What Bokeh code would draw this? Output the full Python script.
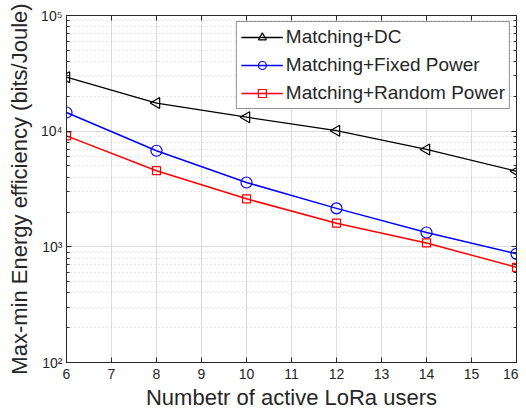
import numpy as np
from bokeh.plotting import figure
from bokeh.models import (LinearAxis, LogAxis, FixedTicker, LogTicker, Legend, LegendItem, Range1d,
                          CustomJSTickFormatter, ColumnDataSource)
from bokeh.embed import file_html
from bokeh.resources import INLINE

users = [6, 8, 10, 12, 14, 16]
matching_dc = [29300, 17500, 13200, 10100, 6950, 4500]
matching_fixed = [14500, 6770, 3600, 2150, 1330, 870]
matching_random = [9100, 4550, 2600, 1600, 1080, 665]
x_ticks = list(range(6, 17))
y_tick_labels = {100: "10²", 1000: "10³", 10000: "10⁴", 100000: "10⁵"}

FONT = "Liberation Sans"
TXT = "#262626"

p = figure(width=518, height=412, y_axis_type="log", output_backend="svg",
           toolbar_location=None, x_range=Range1d(6, 16), y_range=Range1d(100, 100000),
           min_border_left=66, min_border_right=2, min_border_top=15, min_border_bottom=50)
p.outline_line_color = TXT
p.outline_line_width = 1
p.background_fill_color = "white"

xa = p.xaxis[0]
ya = p.yaxis[0]
xa.ticker = FixedTicker(ticks=x_ticks)
ya.ticker = LogTicker(desired_num_ticks=4, num_minor_ticks=10)
ya.major_label_overrides = y_tick_labels
for ax in (xa, ya):
    ax.axis_line_color = TXT
    ax.major_tick_line_color = TXT
    ax.minor_tick_line_color = TXT
    ax.major_tick_in = 5
    ax.major_tick_out = 0
    ax.minor_tick_in = 3
    ax.minor_tick_out = 0
    ax.major_label_text_font = FONT
    ax.major_label_text_font_size = "14px"
    ax.major_label_text_color = TXT
    ax.axis_label_text_font = FONT
    ax.axis_label_text_font_size = "22px"
    ax.axis_label_text_font_style = "normal"
    ax.axis_label_text_color = TXT
xa.minor_tick_line_color = None
xa.axis_label = "Numbetr of active LoRa users"
ya.axis_label = "Max-min Energy efficiency (bits/Joule)"
xa.major_label_standoff = 6
ya.major_label_standoff = 4
xa.axis_label_standoff = 3
ya.axis_label_standoff = 6

blank = CustomJSTickFormatter(code="return ''")
ta = LinearAxis(ticker=FixedTicker(ticks=x_ticks), formatter=blank,
                major_tick_in=5, major_tick_out=0, minor_tick_line_color=None,
                axis_line_color=TXT, major_tick_line_color=TXT, major_label_standoff=0,
                major_label_text_font_size="2px")
ra = LogAxis(ticker=LogTicker(desired_num_ticks=4, num_minor_ticks=10), formatter=blank,
             major_tick_in=5, major_tick_out=0, minor_tick_in=3, minor_tick_out=0,
             axis_line_color=TXT, major_tick_line_color=TXT, minor_tick_line_color=TXT,
             major_label_standoff=0, major_label_text_font_size="2px")
p.add_layout(ta, "above")
p.add_layout(ra, "right")

p.xgrid.grid_line_color = "#dcdcdc"
p.xgrid.grid_line_width = 1
p.xgrid.ticker = FixedTicker(ticks=x_ticks)
p.ygrid.grid_line_color = "#dcdcdc"
p.ygrid.minor_grid_line_color = "#cccccc"
p.ygrid.minor_grid_line_dash = "1 3"
p.ygrid.minor_grid_line_width = 1

src_dc = ColumnDataSource(dict(x=users, y=matching_dc, a=[np.pi / 2] * len(users)))

r1 = p.line(users, matching_dc, line_color="black", line_width=1.3)
m1 = p.scatter("x", "y", source=src_dc, marker="triangle", angle="a", size=11,
               line_color="black", fill_color=None, line_width=1.2)
r2 = p.line(users, matching_fixed, line_color="blue", line_width=1.5)
m2 = p.scatter(users, matching_fixed, marker="circle", size=11,
               line_color="blue", fill_color=None, line_width=1.2)
r3 = p.line(users, matching_random, line_color="red", line_width=1.5)
m3 = p.scatter(users, matching_random, marker="square", size=8,
               line_color="red", fill_color=None, line_width=1.2)

legend = Legend(items=[
    LegendItem(label="Matching+DC", renderers=[r1, m1]),
    LegendItem(label="Matching+Fixed Power", renderers=[r2, m2]),
    LegendItem(label="Matching+Random Power", renderers=[r3, m3]),
], location="top_right")
legend.label_text_font = FONT
legend.label_text_font_size = "19px"
legend.label_text_color = TXT
legend.border_line_color = TXT
legend.border_line_width = 1
legend.background_fill_alpha = 1
legend.glyph_width = 42
legend.glyph_height = 20
legend.label_height = 20
legend.spacing = 6
legend.padding = 4
legend.margin = 6
legend.label_standoff = 3
p.add_layout(legend)

open("out.html", "w").write(file_html(p, INLINE))
